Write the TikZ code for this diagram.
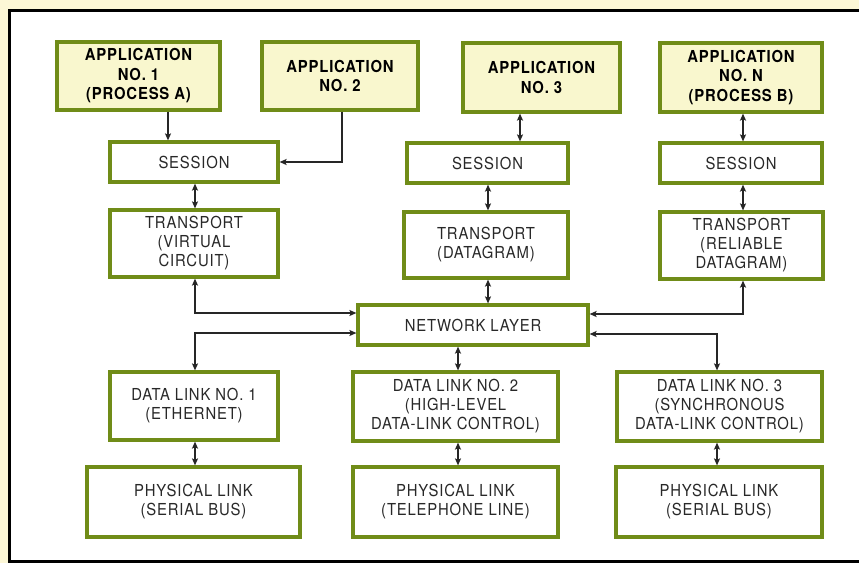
\documentclass[tikz,border=0pt]{standalone}
\usepackage{fontspec}
\setmainfont{TeX Gyre Heros}[FakeStretch=0.9, LetterSpace=5]
\usetikzlibrary{arrows.meta,positioning,calc}
\definecolor{cream}{RGB}{252,247,214}
\definecolor{boxgreen}{RGB}{112,140,24}
\definecolor{appfill}{RGB}{249,247,206}
\definecolor{txt}{RGB}{40,40,40}
\tikzset{
  layerbox/.style={draw=boxgreen, line width=3.2pt, fill=white, align=center,
    inner sep=0pt, text=txt, font=\fontsize{16.5}{19}\selectfont},
  appbox/.style={layerbox, fill=appfill, text=black, font=\fontsize{16.5}{19.5}\selectfont\bfseries},
  conn/.style={draw=black!85, line width=1.3pt},
  one/.style={conn, -{Stealth[length=7pt,width=6pt,inset=1.5pt]}},
  two/.style={conn, {Stealth[length=7pt,width=6pt,inset=1.5pt]}-{Stealth[length=7pt,width=6pt,inset=1.5pt]}},
}
\newcommand{\bx}[6]{\node[#1, minimum width=#4pt, minimum height=#5pt] (#2) at (#3) {#6};}
\begin{document}
\begin{tikzpicture}[x=1pt,y=-1pt]
\useasboundingbox (0,0) rectangle (859,563);
\fill[cream] (0,0) rectangle (859,563);
\begin{scope}
\clip (0,0) rectangle (859,563);
\draw[line width=3pt, fill=white] (9.5,10.5) rectangle (875,561.5);
\end{scope}

% applications
\bx{appbox}{app1}{138.5,76}{163}{68}{APPLICATION\\NO. 1\\(PROCESS A)}
\bx{appbox}{app2}{340,76}{156}{68}{APPLICATION\\NO. 2}
\bx{appbox}{app3}{541.5,77.5}{157}{69}{APPLICATION\\NO. 3}
\bx{appbox}{appN}{741,77.5}{162}{69}{APPLICATION\\NO. N\\(PROCESS B)}
% sessions
\bx{layerbox}{ses1}{194,162}{168}{40}{SESSION}
\bx{layerbox}{ses2}{487.5,163}{161}{40}{SESSION}
\bx{layerbox}{ses3}{741,163}{162}{40}{SESSION}
% transports
\bx{layerbox}{tr1}{194,243.5}{168}{67}{TRANSPORT\\(VIRTUAL\\CIRCUIT)}
\bx{layerbox}{tr2}{486,245}{164}{66}{TRANSPORT\\(DATAGRAM)}
\bx{layerbox}{tr3}{741.5,245.5}{163}{67}{TRANSPORT\\(RELIABLE\\DATAGRAM)}
% network
\bx{layerbox}{net}{473,325}{230}{40}{NETWORK LAYER}
% data links
\bx{layerbox}{dl1}{194,406}{168}{68}{DATA LINK NO. 1\\(ETHERNET)}
\bx{layerbox}{dl2}{455.5,406.5}{205}{69}{DATA LINK NO. 2\\(HIGH-LEVEL\\DATA-LINK CONTROL)}
\bx{layerbox}{dl3}{719.5,406.5}{205}{69}{DATA LINK NO. 3\\(SYNCHRONOUS\\DATA-LINK CONTROL)}
% physical
\bx{layerbox}{ph1}{193.5,502}{213}{70}{PHYSICAL LINK\\(SERIAL BUS)}
\bx{layerbox}{ph2}{455.5,502}{205}{70}{PHYSICAL LINK\\(TELEPHONE LINE)}
\bx{layerbox}{ph3}{719,502}{206}{70}{PHYSICAL LINK\\(SERIAL BUS)}

% column coordinates
\coordinate (xa) at (168,0);
\coordinate (xb) at (342,0);
\coordinate (xc) at (195,0);
\coordinate (xd) at (520,0);
\coordinate (xe) at (488,0);
\coordinate (xf) at (458,0);
\coordinate (xg) at (743,0);
\coordinate (xh) at (717,0);

% connectors
\draw[one] (app1.south -| xa) -- (ses1.north -| xa);
\draw[one] (app2.south -| xb) |- (ses1.east);
\draw[two] (ses1.south -| xc) -- (tr1.north -| xc);
\draw[two] (tr1.south -| xc) |- ([yshift=12pt]net.west);
\draw[two] ([yshift=-8pt]net.west) -| (dl1.north -| xc);
\draw[two] (dl1.south -| xc) -- (ph1.north -| xc);

\draw[two] (app3.south -| xd) -- (ses2.north -| xd);
\draw[two] (ses2.south -| xe) -- (tr2.north -| xe);
\draw[two] (tr2.south -| xe) -- (net.north -| xe);
\draw[two] (net.south -| xf) -- (dl2.north -| xf);
\draw[two] (dl2.south -| xf) -- (ph2.north -| xf);

\draw[two] (appN.south -| xg) -- (ses3.north -| xg);
\draw[two] (ses3.south -| xg) -- (tr3.north -| xg);
\draw[two] (tr3.south -| xg) |- ([yshift=11pt]net.east);
\draw[two] ([yshift=-9pt]net.east) -| (dl3.north -| xh);
\draw[two] (dl3.south -| xh) -- (ph3.north -| xh);
\end{tikzpicture}
\end{document}
